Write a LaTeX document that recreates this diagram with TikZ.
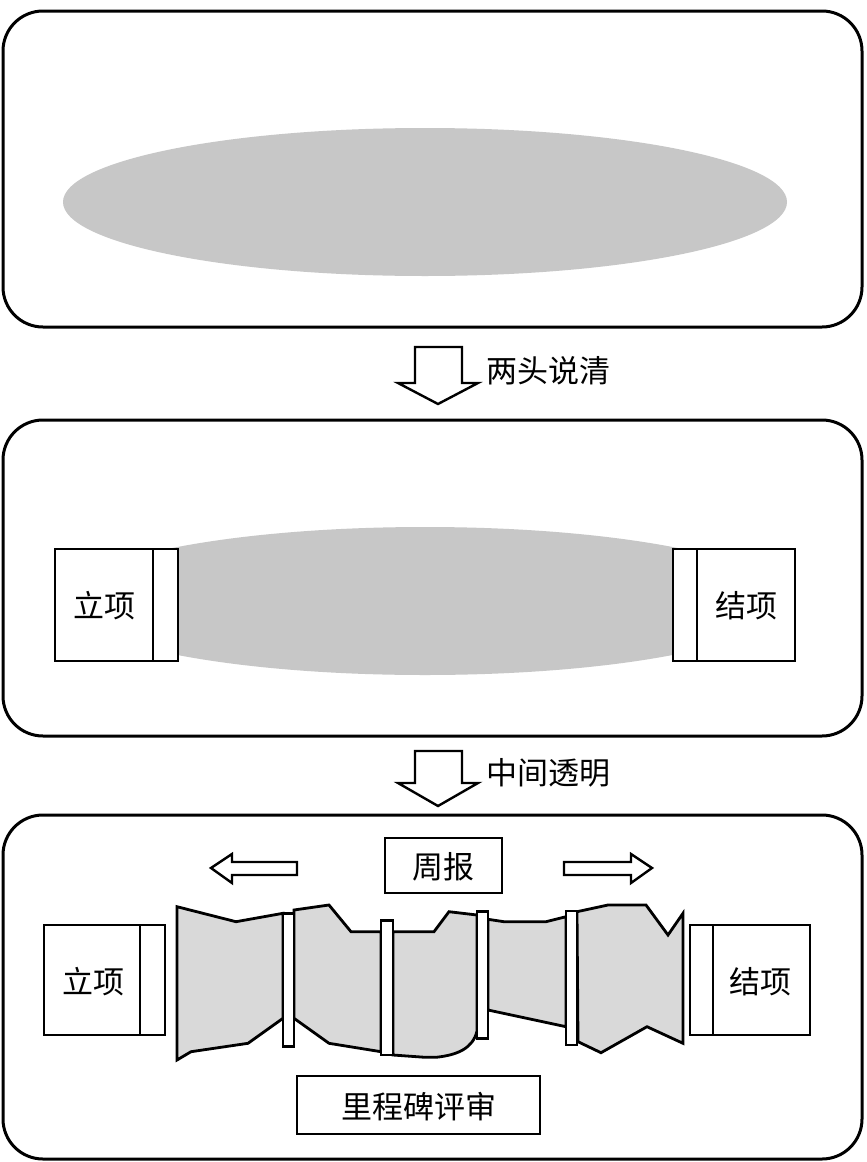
\documentclass[tikz,border=0pt]{standalone}
\usepackage{fontspec}
\newfontfamily\cjk{Noto Sans CJK SC}
\begin{document}
\begin{tikzpicture}[x=1pt,y=-1pt,
  panel/.style={draw, line width=3pt, rounded corners=40pt, inner sep=0pt, outer sep=0pt},
  box/.style={draw, line width=2.8pt, fill=white, inner sep=0pt, outer sep=0pt},
  divider/.style={line width=2.8pt},
  lbl/.style={font=\cjk\fontsize{31}{33}\selectfont, inner sep=0pt},
  blockarrow/.style={draw, line width=2.4pt, fill=white, line join=miter},
  flow/.style={draw, line width=2.8pt, fill=black!15, line join=miter},
  bar/.style={draw, line width=2.6pt, fill=white},
  oval/.style={fill=black!22},
]
\useasboundingbox (0,0) rectangle (867,1162);
\fill[white] (0,0) rectangle (867,1162);

% panels
\node[panel, minimum width=859pt, minimum height=316pt] (p1) at (432.5,169) {};
\node[panel, minimum width=859pt, minimum height=316pt] (p2) at (432.5,578) {};
\node[panel, minimum width=859pt, minimum height=344pt] (p3) at (432.5,987) {};

% panel 1
\fill[oval] (425,202) ellipse [x radius=362, y radius=74];

% arrow 1
\draw[blockarrow] (415,347) -- (462,347) -- (462,383) -- (478,383) -- (438,404) -- (398,383) -- (415,383) -- cycle;
\node[lbl, anchor=west] (t1) at (486,371) {两头说清};

% panel 2
\fill[oval] (425,601) ellipse [x radius=362, y radius=74];
\node[box, minimum width=123pt, minimum height=112pt] (b2l) at (116.5,605) {};
\draw[divider] (153,549) -- (153,661);
\node[lbl] (l2l) at (104,606) {立项};
\node[box, minimum width=122pt, minimum height=112pt] (b2r) at (734,605) {};
\draw[divider] (697,549) -- (697,661);
\node[lbl] (l2r) at (746,606) {结项};

% arrow 2
\draw[blockarrow] (415,751) -- (462,751) -- (462,783) -- (478,783) -- (438,806) -- (398,783) -- (415,783) -- cycle;
\node[lbl, anchor=west] (t2) at (486,773) {中间透明};

% panel 3
\draw[blockarrow] (297,862) -- (232,862) -- (232,854) -- (211,868) -- (232,883) -- (232,875) -- (297,875) -- cycle;
\draw[blockarrow] (564,862) -- (631,862) -- (631,854) -- (652,868) -- (631,883) -- (631,875) -- (564,875) -- cycle;
\node[box, minimum width=117pt, minimum height=55pt] (wk) at (443.5,865.5) {};
\node[lbl] (lwk) at (443.5,867) {周报};

% flow segments
\draw[flow] (177,906.7) -- (236,921.7) -- (283,913.3) -- (283,1018.3) -- (248,1043.3) -- (191,1051.7) -- (177,1060) -- cycle;
\draw[flow] (294,910) -- (329,905) -- (351,931.7) -- (381,931.7) -- (381,1051.7) -- (329,1043.3) -- (294,1018.3) -- cycle;
\draw[flow] (393,931.7) -- (434,931.7) -- (449,911.7) -- (477,915) -- (477,1031) .. controls (473,1048) and (458,1055) .. (436,1057.3) -- (425,1057.3) -- (393,1055) -- cycle;
\draw[flow] (488,919.3) -- (504,921.7) -- (546,921.7) -- (566,916.7) -- (566,1026.7) -- (488,1010) -- cycle;
\draw[flow] (577,911.7) -- (608,905) -- (646,905) -- (668,935) -- (683,913.3) -- (683,1043.3) -- (647,1026.7) -- (601,1052.7) -- (578,1041.7) -- cycle;

% bars
\draw[bar] (283,913.3) rectangle (294,1046.7);
\draw[bar] (381,920.7) rectangle (393,1055);
\draw[bar] (477,911.7) rectangle (488,1038.3);
\draw[bar] (566,911) rectangle (577,1045);

% end boxes
\node[box, minimum width=121pt, minimum height=110pt] (b3l) at (104.5,980) {};
\draw[divider] (140,925) -- (140,1035);
\node[lbl] (l3l) at (93,982) {立项};
\node[box, minimum width=120pt, minimum height=110pt] (b3r) at (750,980) {};
\draw[divider] (713,925) -- (713,1035);
\node[lbl] (l3r) at (760,982) {结项};

\node[box, minimum width=243pt, minimum height=58pt] (ms) at (418.5,1105) {};
\node[lbl] (lms) at (418.5,1107) {里程碑评审};
\end{tikzpicture}
\end{document}
